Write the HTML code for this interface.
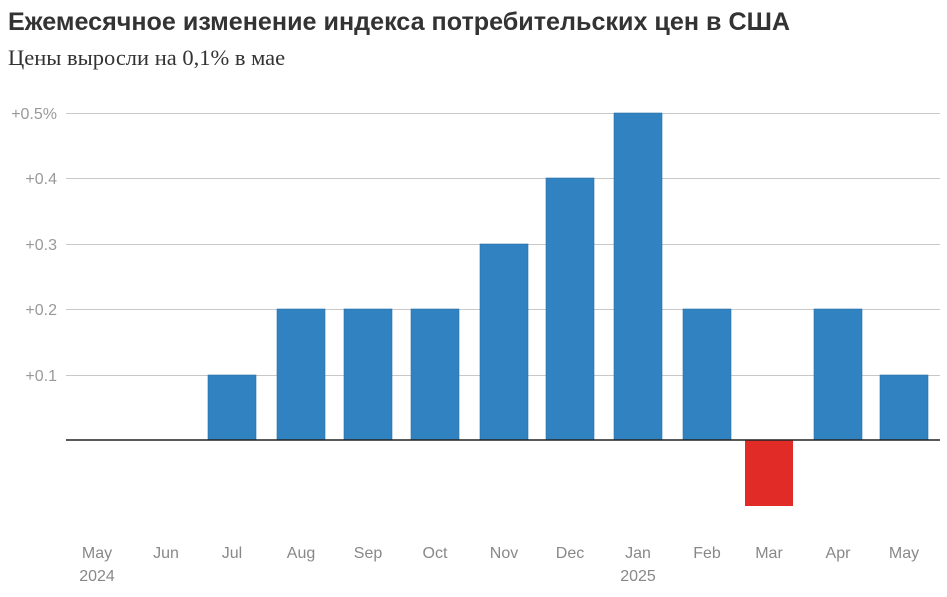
<!DOCTYPE html>
<html><head><meta charset="utf-8"><style>
body{margin:0;background:#fff;width:947px;height:592px;overflow:hidden}
</style></head><body>
<svg width="947" height="592" xmlns="http://www.w3.org/2000/svg">
<text x="8" y="30" font-family="Liberation Sans, sans-serif" font-weight="bold" font-size="25" fill="#333" textLength="782" lengthAdjust="spacingAndGlyphs">Ежемесячное изменение индекса потребительских цен в США</text>
<text x="8" y="65" font-family="Liberation Serif, serif" font-size="22.5" fill="#333">Цены выросли на 0,1% в мае</text>
<g stroke="#c8c8c8" stroke-width="1">
<line x1="66" x2="940" y1="113.5" y2="113.5"/>
<line x1="66" x2="940" y1="178.5" y2="178.5"/>
<line x1="66" x2="940" y1="244.5" y2="244.5"/>
<line x1="66" x2="940" y1="309.5" y2="309.5"/>
<line x1="66" x2="940" y1="375.5" y2="375.5"/>
</g>
<g font-family="Liberation Sans, sans-serif" font-size="16" fill="#999" text-anchor="end">
<text x="57" y="119">+0.5%</text>
<text x="57" y="184">+0.4</text>
<text x="57" y="250">+0.3</text>
<text x="57" y="315">+0.2</text>
<text x="57" y="381">+0.1</text>
</g>
<g fill="#3182c0" stroke="#2a6fa6" stroke-width="0.6">
<rect x="208" y="375" width="48" height="65"/>
<rect x="277" y="309" width="48" height="131"/>
<rect x="344" y="309" width="48" height="131"/>
<rect x="411" y="309" width="48" height="131"/>
<rect x="480" y="244" width="48" height="196"/>
<rect x="546" y="178" width="48" height="262"/>
<rect x="614" y="113" width="48" height="327"/>
<rect x="683" y="309" width="48" height="131"/>
<rect x="814" y="309" width="48" height="131"/>
<rect x="880" y="375" width="48" height="65"/>
</g>
<rect x="745" y="440" width="48" height="66" fill="#e02b27"/>
<line x1="66" x2="940" y1="440" y2="440" stroke="#222" stroke-width="1.5"/>
<g font-family="Liberation Sans, sans-serif" font-size="16" fill="#888" text-anchor="middle">
<text x="97" y="558">May</text><text x="97" y="581">2024</text>
<text x="166" y="558">Jun</text>
<text x="232" y="558">Jul</text>
<text x="301" y="558">Aug</text>
<text x="368" y="558">Sep</text>
<text x="435" y="558">Oct</text>
<text x="504" y="558">Nov</text>
<text x="570" y="558">Dec</text>
<text x="638" y="558">Jan</text><text x="638" y="581">2025</text>
<text x="707" y="558">Feb</text>
<text x="769" y="558">Mar</text>
<text x="838" y="558">Apr</text>
<text x="904" y="558">May</text>
</g>
</svg>
</body></html>
